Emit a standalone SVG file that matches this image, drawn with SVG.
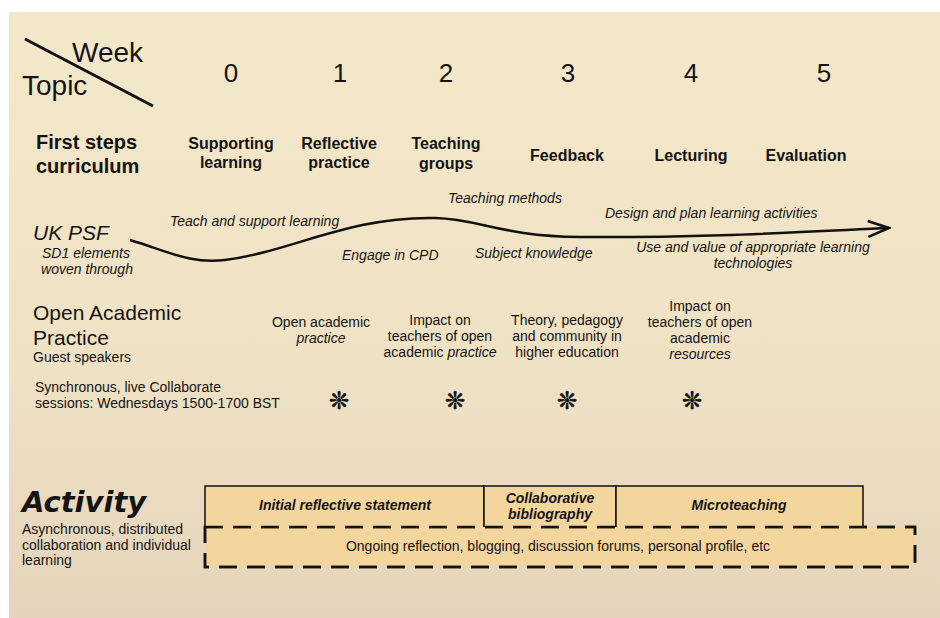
<svg xmlns="http://www.w3.org/2000/svg" width="940" height="618" viewBox="0 0 940 618">
<defs>
<linearGradient id="bg" x1="0" y1="0" x2="0" y2="1">
<stop offset="0" stop-color="#f4e8ca"/>
<stop offset="0.6" stop-color="#efe1c4"/>
<stop offset="1" stop-color="#e4d4bb"/>
</linearGradient>
<marker id="arrow" viewBox="0 0 24 20" refX="22" refY="10" markerWidth="24" markerHeight="20" markerUnits="userSpaceOnUse" orient="auto">
<path d="M1,2 L22,10 L1,18" fill="none" stroke="#111" stroke-width="2.5" stroke-linejoin="miter"/>
</marker>
<style>
text{font-family:"Liberation Sans",Arial,sans-serif;fill:#141414;}
.hd{font-size:28px;}
.num{font-size:26px;text-anchor:middle;}
.topic{font-size:16px;font-weight:bold;text-anchor:middle;}
.big{font-size:20px;font-weight:bold;}
.it{font-size:14px;font-style:italic;}
.n14{font-size:14px;}
.c14{font-size:14px;text-anchor:middle;}
.bi{font-size:14px;font-weight:bold;font-style:italic;text-anchor:middle;}
.star{font-family:"DejaVu Sans",sans-serif;font-size:24px;text-anchor:middle;stroke:#141414;stroke-width:0.7;}
.box{fill:#f3d59e;stroke:#111;stroke-width:1.5;}
.dash{fill:#f3d59e;stroke:#111;stroke-width:2.5;stroke-dasharray:18 10;}
</style>
</defs>
<rect x="0" y="0" width="940" height="618" fill="#ffffff"/>
<rect x="9" y="12" width="931" height="606" fill="url(#bg)"/>

<g id="header">
<line x1="25" y1="39" x2="153" y2="106" stroke="#111" stroke-width="3"/>
<text class="hd" x="72" y="62">Week</text>
<text class="hd" x="22" y="95">Topic</text>
<text class="num" x="231" y="82">0</text>
<text class="num" x="340" y="82">1</text>
<text class="num" x="446" y="82">2</text>
<text class="num" x="568" y="82">3</text>
<text class="num" x="691" y="82">4</text>
<text class="num" x="824" y="82">5</text>
</g>

<g id="first-steps">
<text class="big" x="36" y="149">First steps</text>
<text class="big" x="36" y="173">curriculum</text>
<text class="topic" x="231" y="149">Supporting</text>
<text class="topic" x="231" y="168">learning</text>
<text class="topic" x="339" y="149">Reflective</text>
<text class="topic" x="339" y="168">practice</text>
<text class="topic" x="446" y="149">Teaching</text>
<text class="topic" x="446" y="169">groups</text>
<text class="topic" x="567" y="161">Feedback</text>
<text class="topic" x="691" y="161">Lecturing</text>
<text class="topic" x="806" y="161">Evaluation</text>
</g>

<g id="uk-psf">
<text x="33" y="240" style="font-size:21px;font-style:italic;">UK PSF</text>
<text class="it" x="86" y="258" text-anchor="middle">SD1 elements</text>
<text class="it" x="87" y="274" text-anchor="middle">woven through</text>
<text class="it" x="170" y="226">Teach and support learning</text>
<text class="it" x="342" y="260">Engage in CPD</text>
<text class="it" x="448" y="203">Teaching methods</text>
<text class="it" x="475" y="258">Subject knowledge</text>
<text class="it" x="605" y="218">Design and plan learning activities</text>
<text class="it" x="753" y="252" text-anchor="middle">Use and value of appropriate learning</text>
<text class="it" x="753" y="268" text-anchor="middle">technologies</text>
</g>

<g id="open-academic-practice">
<text x="33" y="320" style="font-size:21px;">Open Academic</text>
<text x="33" y="345" style="font-size:21px;">Practice</text>
<text class="n14" x="33" y="362">Guest speakers</text>
<text class="c14" x="321" y="327">Open academic</text>
<text class="c14" x="321" y="343" font-style="italic">practice</text>
<text class="c14" x="440" y="325">Impact on</text>
<text class="c14" x="440" y="341">teachers of open</text>
<text class="c14" x="440" y="357">academic <tspan font-style="italic">practice</tspan></text>
<text class="c14" x="567" y="325">Theory, pedagogy</text>
<text class="c14" x="567" y="341">and community in</text>
<text class="c14" x="567" y="357">higher education</text>
<text class="c14" x="700" y="311">Impact on</text>
<text class="c14" x="700" y="327">teachers of open</text>
<text class="c14" x="700" y="343">academic</text>
<text class="c14" x="700" y="359" font-style="italic">resources</text>
</g>

<g id="synchronous">
<text class="n14" x="35" y="392">Synchronous, live Collaborate</text>
<text class="n14" x="35" y="408">sessions: Wednesdays 1500-1700 BST</text>
<text class="star" x="339" y="409">❊</text>
<text class="star" x="455" y="409">❊</text>
<text class="star" x="567" y="409">❊</text>
<text class="star" x="692" y="409">❊</text>
</g>

<g id="activity">
<text x="22" y="512" style="font-family:'DejaVu Sans',sans-serif;font-size:29px;font-weight:bold;font-style:italic;">Activity</text>
<text class="n14" x="22" y="534">Asynchronous, distributed</text>
<text class="n14" x="22" y="550">collaboration and individual</text>
<text class="n14" x="22" y="565">learning</text>
</g>

<g id="ongoing">
<rect class="dash" x="205" y="527" width="710" height="40"/>
<text class="c14" x="558" y="551">Ongoing reflection, blogging, discussion forums, personal profile, etc</text>
</g>
<g id="initial-reflective-statement">
<path class="box" d="M205,527 L205,486 L484,486 L484,527"/>
<text class="bi" x="345" y="510">Initial reflective statement</text>
</g>
<g id="collaborative-bibliography">
<path class="box" d="M484,527 L484,486 L616,486 L616,527"/>
<text class="bi" x="550" y="503">Collaborative</text>
<text class="bi" x="550" y="519">bibliography</text>
</g>
<g id="microteaching">
<path class="box" d="M616,527 L616,486 L863,486 L863,527"/>
<text class="bi" x="739" y="510">Microteaching</text>
</g>
<rect x="205" y="527" width="710" height="40" fill="none" stroke="#111" stroke-width="2.5" stroke-dasharray="18 10"/>

<g id="connectors">
<path d="M130,240 C170,252 190,264 225,260 C290,252 350,216 435,218 C480,219 500,236 580,237 C700,238 800,232 889,228" fill="none" stroke="#111" stroke-width="2.5" marker-end="url(#arrow)"/>
</g>
</svg>
